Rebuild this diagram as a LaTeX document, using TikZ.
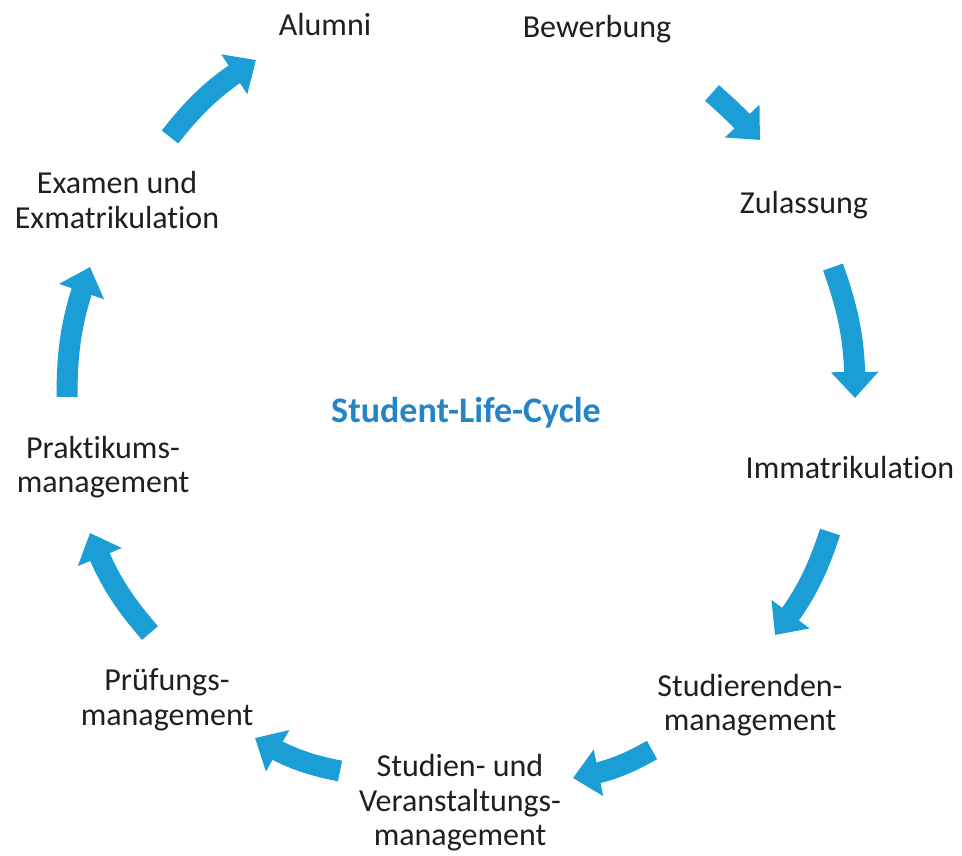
\documentclass[tikz,border=0pt]{standalone}
\usepackage{fontspec}
\setmainfont{Carlito}[Ligatures=NoCommon]
\usepackage{tikz}
\usetikzlibrary{arrows.meta,bending}
\definecolor{cycleblue}{RGB}{27,157,214}
\definecolor{titleblue}{RGB}{35,132,198}

\begin{document}
\begin{tikzpicture}[x=1pt,y=-1pt,
    phase/.style={align=center,text=black!88,inner sep=0pt,
        font=\fontsize{32}{34.5}\selectfont},
    flow/.style={draw=cycleblue,line width=21pt,
        -{Triangle[width=46pt,length=26pt]},bend left=10}]
        \useasboundingbox (0,0) rectangle (962,855);
        % Center
        \node[font=\fontsize{36}{40}\selectfont\bfseries,text=titleblue] (title) at (466,413) {Student-Life-Cycle};
        % Phases
        \node[phase] (alumni) at (325,25) {Alumni};
        \node[phase] (bewerbung) at (597,29) {Bewerbung};
        \node[phase] (zulassung) at (804,205) {Zulassung};
        \node[phase] (immatrikulation) at (850,467) {Immatrikulation};
        \node[phase] (studierende) at (750,705) {Studierenden-\\management};
        \node[phase] (studien) at (460,803) {Studien- und\\Veranstaltungs-\\management};
        \node[phase] (pruefung) at (167,700) {Prüfungs-\\management};
        \node[phase] (praktikum) at (103,467) {Praktikums-\\management};
        \node[phase] (examen) at (117,200) {Examen und\\Exmatrikulation};
        % Arrow ends
        \coordinate (b1) at (712,93);   \coordinate (b2) at (760,140);
        \coordinate (z1) at (833,267);  \coordinate (z2) at (855,398);
        \coordinate (i1) at (830,532);  \coordinate (i2) at (775,635);
        \coordinate (s1) at (652,750);  \coordinate (s2) at (573,778);
        \coordinate (v1) at (340,771);  \coordinate (v2) at (255,738);
        \coordinate (p1) at (150,633);  \coordinate (p2) at (90,533);
        \coordinate (k1) at (67,397);   \coordinate (k2) at (90,267);
        \coordinate (e1) at (170,137);  \coordinate (e2) at (256,60);
        % Arrows
        \draw[flow,bend left=3] (b1) to (b2);
        \draw[flow] (z1) to (z2);
        \draw[flow] (i1) to (i2);
        \draw[flow] (s1) to (s2);
        \draw[flow] (v1) to (v2);
        \draw[flow] (p1) to (p2);
        \draw[flow] (k1) to (k2);
        \draw[flow] (e1) to (e2);
    \end{tikzpicture}
\end{document}
